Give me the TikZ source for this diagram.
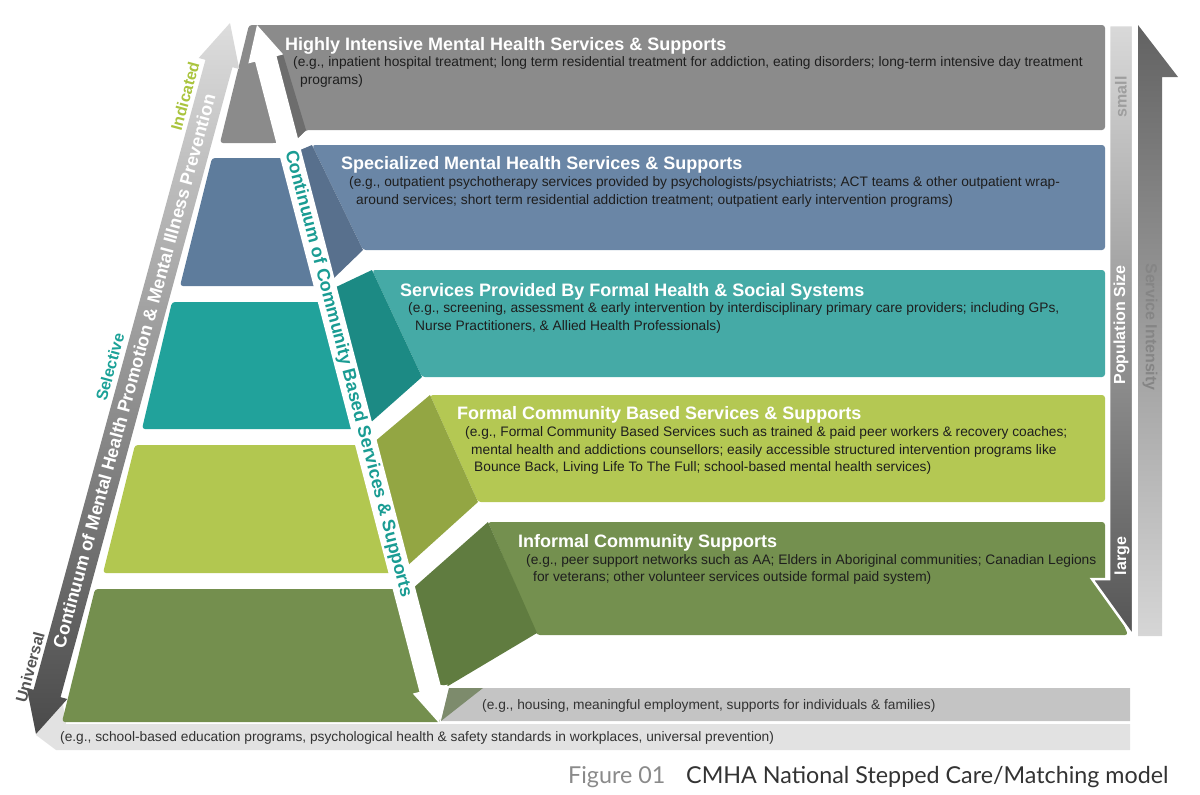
\documentclass[tikz,border=0pt]{standalone}
\usepackage{fontspec}
\setmainfont{Liberation Sans}
\newfontfamily\capfont{Lato}
\definecolor{floorL}{HTML}{E2E2E2}
\definecolor{floorM}{HTML}{C4C4C4}
\definecolor{olivegray}{HTML}{7D8B6C}
\definecolor{grayP}{HTML}{8B8B8B}
\definecolor{grayS}{HTML}{6D6D6D}
\definecolor{blueF}{HTML}{5E7C9C}
\definecolor{blueP}{HTML}{6A86A6}
\definecolor{blueS}{HTML}{58708D}
\definecolor{tealF}{HTML}{21A29B}
\definecolor{tealP}{HTML}{45AAA6}
\definecolor{tealS}{HTML}{1C8A84}
\definecolor{lgF}{HTML}{B2C750}
\definecolor{lgP}{HTML}{B4C853}
\definecolor{lgS}{HTML}{93A643}
\definecolor{dgF}{HTML}{748F4E}
\definecolor{dgP}{HTML}{74904F}
\definecolor{dgS}{HTML}{607C40}
\definecolor{bandTop}{HTML}{DDDDDD}
\definecolor{bandBot}{HTML}{4A4A4A}
\definecolor{popTop}{HTML}{D9D9D9}
\definecolor{popMid}{HTML}{ABABAB}
\definecolor{popBot}{HTML}{555555}
\definecolor{siTop}{HTML}{626262}
\definecolor{siMid}{HTML}{C0C0C0}
\definecolor{siBot}{HTML}{D6D6D6}
\definecolor{tealtxt}{HTML}{1A9C93}
\definecolor{indtxt}{HTML}{AAC43E}
\definecolor{seltxt}{HTML}{1AA197}
\definecolor{unitxt}{HTML}{555555}
\definecolor{bodytxt}{HTML}{1E1E1E}
\definecolor{figtxt}{HTML}{8A8A8A}
\definecolor{captxt}{HTML}{333333}
\definecolor{smalltxt}{HTML}{9E9E9E}
\definecolor{sitxt}{HTML}{858585}
\tikzset{
  rc/.style={rounded corners=3pt},
  ttl/.style={anchor=base west, inner sep=0pt, text=white, font=\bfseries\fontsize{18}{20}\selectfont},
  body/.style={anchor=base west, inner sep=0pt, text=bodytxt, font=\fontsize{13.75}{16}\selectfont},
  bandtxt/.style={inner sep=0pt, font=\bfseries\fontsize{18}{20}\selectfont},
  lbl/.style={inner sep=0pt, rotate=74.7, font=\bfseries\fontsize{16}{18}\selectfont},
  vtxt/.style={inner sep=0pt, font=\bfseries\fontsize{16}{18}\selectfont},
}
\begin{document}
\begin{tikzpicture}[x=1pt,y=-1pt]
\useasboundingbox (0,0) rectangle (1200,795);

% floor bars
\fill[floorL] (62,698) -- (66,724) -- (1130,724) -- (1130,750) -- (56,750) -- (36,735) -- cycle;
\fill[floorM] (449,688) -- (1130,688) -- (1130,721) -- (441,721) -- cycle;
\fill[olivegray] (449,688) -- (483,688) -- (441,721) -- cycle;

% gray layer
\fill[grayP, rc] (220,143) -- (249,25) -- (1105,25) -- (1105,130) -- (306,130) -- (298,138) -- (276,143) -- cycle;
\fill[grayS] (270,60) -- (283,54) -- (306,130) -- (298,138) -- (292,140) -- cycle;

% blue layer
\fill[blueF, rc] (212,158) -- (286,158) -- (320,286) -- (180,286) -- cycle;
\fill[blueP, rc] (312,145) -- (1105,145) -- (1105,250) -- (363,250) -- cycle;
\fill[blueS] (299,150.5) -- (312,145) -- (363,250) -- (332,280) -- cycle;

% teal layer
\fill[tealF, rc] (172,302) -- (322,302) -- (356,429) -- (142,429) -- cycle;
\fill[tealP, rc] (372,270) -- (1105,270) -- (1105,377) -- (422,377) -- cycle;
\fill[tealS] (334,288) -- (372,270) -- (422,377) -- (369,424) -- cycle;

% light green layer
\fill[lgF, rc] (135,445) -- (360,445) -- (393,573) -- (103,573) -- cycle;
\fill[lgP, rc] (430,395) -- (1105,395) -- (1105,502) -- (478,502) -- cycle;
\fill[lgS] (373,443) -- (430,395) -- (478,502) -- (406,567) -- cycle;

% dark green layer
\fill[dgF, rc] (95,589) -- (398,589) -- (441,722) -- (62,722) -- cycle;
\fill[dgP, rc] (488,522) -- (1105,522) -- (1105,580) -- (1128,635) -- (537,635) -- cycle;
\fill[dgS] (411,590) -- (488,522) -- (537,633) -- (448,686) -- (436,684) -- cycle;

% white community arrow
\fill[white] (257,25) -- (283.2,54.4) -- (276.5,56.1) -- (440.9,686.3) -- (447.6,684.6) -- (439,723)
  -- (412.8,693.6) -- (419.5,691.9) -- (255.1,61.7) -- (248.4,63.4) -- cycle;

% left promotion/prevention arrow
\shade[top color=bandTop, bottom color=bandBot] (230,23) -- (239.21,69.05) -- (232.46,67.20) -- (60.56,697.16)
  -- (67.31,699.01) -- (36,734) -- (26.79,687.95) -- (33.54,689.80) -- (205.44,59.84) -- (198.69,57.99) -- cycle;

% population size arrow
\shadedraw[top color=popTop, middle color=popMid, bottom color=popBot, draw=white, line width=2.5pt, line join=miter]
  (1109,25) -- (1133,25) -- (1133,636) -- (1092,579) -- (1109,579) -- cycle;
% service intensity arrow
\shade[top color=siTop, middle color=siMid, bottom color=siBot] (1138,25) -- (1178,77) -- (1162,77) -- (1162,636) -- (1138,636) -- cycle;

% panel texts
\node[ttl] (t1) at (285,50.5) {Highly Intensive Mental Health Services \& Supports};
\node[body] (b1a) at (293,66.5) {(e.g., inpatient hospital treatment; long term residential treatment for addiction, eating disorders; long-term intensive day treatment};
\node[body] (b1b) at (300,84.5) {programs)};

\node[ttl] (t2) at (341,169.5) {Specialized Mental Health Services \& Supports};
\node[body] (b2a) at (349,186.5) {(e.g., outpatient psychotherapy services provided by psychologists/psychiatrists; ACT teams \& other outpatient wrap-};
\node[body] (b2b) at (356,204.5) {around services; short term residential addiction treatment; outpatient early intervention programs)};

\node[ttl] (t3) at (400,296.5) {Services Provided By Formal Health \& Social Systems};
\node[body] (b3a) at (408,312.5) {(e.g., screening, assessment \& early intervention by interdisciplinary primary care providers; including GPs,};
\node[body] (b3b) at (415,330.5) {Nurse Practitioners, \& Allied Health Professionals)};

\node[ttl] (t4) at (457,419.5) {Formal Community Based Services \& Supports};
\node[body] (b4a) at (465,436.5) {(e.g., Formal Community Based Services such as trained \& paid peer workers \& recovery coaches;};
\node[body] (b4b) at (471,454.5) {mental health and addictions counsellors; easily accessible structured intervention programs like};
\node[body] (b4c) at (474,471.5) {Bounce Back, Living Life To The Full; school-based mental health services)};

\node[ttl] (t5) at (518,547.5) {Informal Community Supports};
\node[body] (b5a) at (526,564.5) {(e.g., peer support networks such as AA; Elders in Aboriginal communities; Canadian Legions};
\node[body] (b5b) at (533,581.5) {for veterans; other volunteer services outside formal paid system)};

\node[body, text=captxt] (f1) at (482,709.5) {(e.g., housing, meaningful employment, supports for individuals \& families)};
\node[body, text=captxt] (f2) at (60,741.5) {(e.g., school-based education programs, psychological health \& safety standards in workplaces, universal prevention)};

% arrow texts
\node[bandtxt, text=tealtxt, rotate=-75.4] (cc) at (348,374) {Continuum of Community Based Services \& Supports};
\node[bandtxt, text=white, rotate=74.7] (mh) at (134,371) {Continuum of Mental Health Promotion \& Mental Illness Prevention};
\node[lbl, text=indtxt] (ind) at (185,96) {Indicated};
\node[lbl, text=seltxt] (sel) at (110,367) {Selective};
\node[lbl, text=unitxt] (uni) at (30,667) {Universal};

\node[vtxt, text=smalltxt, rotate=90] (sm) at (1121,97) {small};
\node[vtxt, text=white, rotate=90] (ps) at (1121,325) {Population Size};
\node[vtxt, text=white, rotate=90] (lg) at (1122,556) {large};
\node[vtxt, text=sitxt, rotate=-90] (si) at (1150,327) {Service Intensity};

% caption
\node[anchor=base west, inner sep=0pt, text=figtxt, font=\capfont\fontsize{23.3}{25}\selectfont] (fig) at (568,783) {Figure 01};
\node[anchor=base west, inner sep=0pt, text=captxt, font=\capfont\fontsize{23.3}{25}\selectfont] (cap) at (686,783) {CMHA National Stepped Care/Matching model};
\end{tikzpicture}
\end{document}
